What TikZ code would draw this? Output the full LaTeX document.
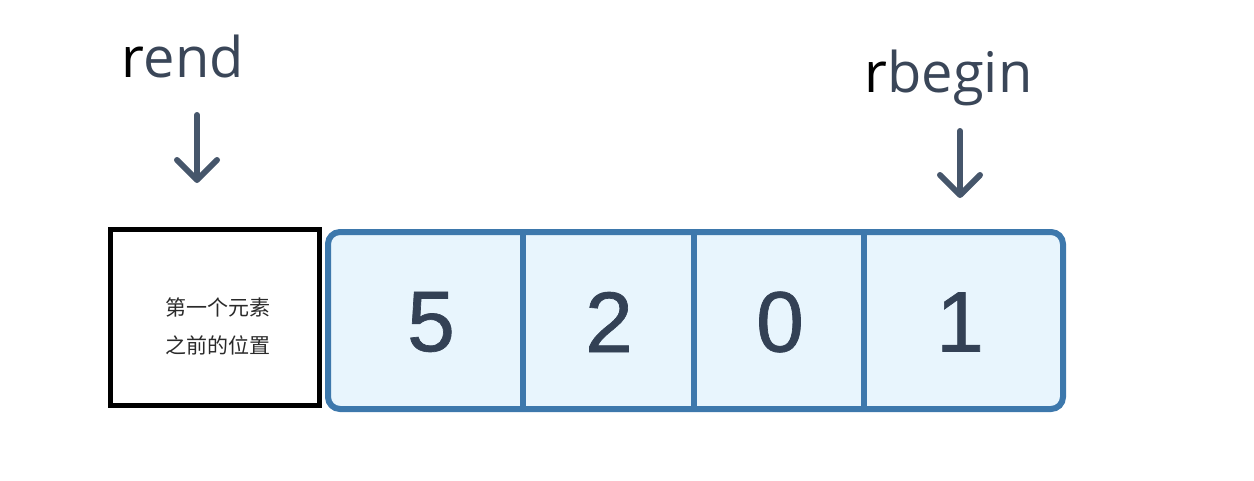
\documentclass[tikz,border=0pt]{standalone}
\usepackage{fontspec}
\setmainfont{Open Sans}
\newfontfamily\cjk{Noto Sans CJK SC}
\newfontfamily\digitfont[FakeBold=0.8]{Liberation Sans}
\usetikzlibrary{positioning, arrows.meta}
\definecolor{slate}{HTML}{3A4658}
\definecolor{digitgray}{HTML}{334155}
\definecolor{arrowgray}{HTML}{46566B}
\definecolor{cellblue}{HTML}{3D78AC}
\definecolor{cellfill}{HTML}{E8F5FD}
\definecolor{notegray}{HTML}{2A2A2A}

\tikzset{
  itername/.style={anchor=base, text=slate, font=\fontsize{56}{56}\selectfont},
  pointer/.style={draw=arrowgray, line width=6pt, line cap=round,
    -{Straight Barb[length=20pt,width=40pt,round]}},
  sentinel/.style={draw=black, line width=5pt, minimum width=209pt, minimum height=176pt},
  cell/.style={text=digitgray, font=\digitfont\fontsize{86}{86}\selectfont, inner sep=0pt},
  frame/.style={draw=cellblue, fill=cellfill, line width=6pt, rounded corners=12pt},
  divider/.style={draw=cellblue, line width=6pt}
}

\begin{document}
\begin{tikzpicture}[x=1pt,y=-1pt]
  \useasboundingbox (0,0) rectangle (1254,480);

  %%% ARREGLO %%%
  % marco de los elementos
  \draw[frame] (328,232) rectangle (1063,409);
  \draw[divider] (523,232) -- (523,409);
  \draw[divider] (694,232) -- (694,409);
  \draw[divider] (864,232) -- (864,409);

  % elementos
  \node[cell] (c5) at (431,322) {5};
  \node[cell] (c2) at (609,322) {2};
  \node[cell] (c0) at (780,322) {0};
  \node[cell] (c1) at (960,322) {1};

  % posicion antes del primero
  \node[sentinel] (before) at (215,317.5) {};
  \node[align=center, text=notegray, font=\cjk\fontsize{21}{38}\selectfont] (note) at (218,326) {第一个元素\\之前的位置};

  %%% ITERADORES %%%
  \node[itername] (rend) at (182.5,77) {\textcolor{black}{r}end};
  \node[itername] (rbegin) at (948.5,92) {\textcolor{black}{r}begin};

  \coordinate (rendtail) at (197,115);
  \coordinate (rendtip) at (197,183);
  \coordinate (rbegintail) at (960,131);
  \coordinate (rbegintip) at (960,198);

  \draw[pointer] (rendtail) -- (rendtip);
  \draw[pointer] (rbegintail) -- (rbegintip);
\end{tikzpicture}
\end{document}
